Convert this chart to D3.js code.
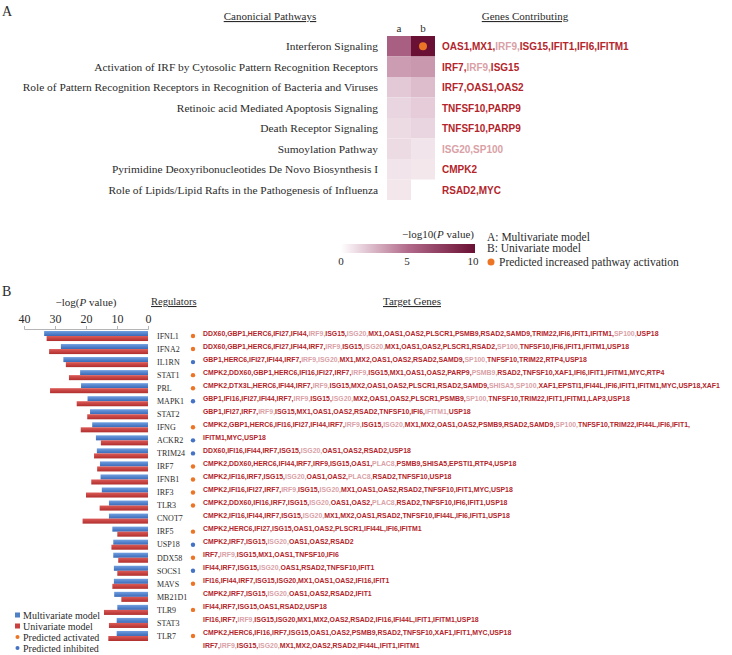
<!DOCTYPE html>
<html>
<head>
<meta charset="utf-8">
<script src="https://cdn.jsdelivr.net/npm/d3@7"></script>
<style>
body { margin: 0; background: #fff; }
svg { display: block; }
.serif { font-family: "Liberation Serif", "Times New Roman", serif; fill: #2b2b2b; }
.gene { font-family: "Liberation Sans", Arial, sans-serif; font-weight: bold; }
.axis path, .axis line { stroke: #b5b5b5; }
</style>
</head>
<body>
<div id="chart"></div>
<script>
// ---- Panel A data ----
const pathways = [
    "Interferon Signaling",
    "Activation of IRF by Cytosolic Pattern Recognition Receptors",
    "Role of Pattern Recognition Receptors in Recognition of Bacteria and Viruses",
    "Retinoic acid Mediated Apoptosis Signaling",
    "Death Receptor Signaling",
    "Sumoylation Pathway",
    "Pyrimidine Deoxyribonucleotides De Novo Biosynthesis I",
    "Role of Lipids/Lipid Rafts in the Pathogenesis of Influenza"
]
const pathLogP_a = [5.6, 3.3, 1.8, 1.4, 1.2, 1.2, 0.9, 0.8]
const pathLogP_b = [10, 3.5, 2.2, 1.7, 1.4, 0.9, 0.8, null]
const pathActivated_b = [true, false, false, false, false, false, false, false]
// "*" marks genes printed in the faint colour
const pathGenes = [
    "OAS1,MX1,*IRF9,ISG15,IFIT1,IFI6,IFITM1",
    "IRF7,*IRF9,ISG15",
    "IRF7,OAS1,OAS2",
    "TNFSF10,PARP9",
    "TNFSF10,PARP9",
    "*ISG20,*SP100",
    "CMPK2",
    "RSAD2,MYC"
]

// ---- Panel B data ----
const regulators = ["IFNL1", "IFNA2", "IL1RN", "STAT1", "PRL", "MAPK1", "STAT2", "IFNG",
    "ACKR2", "TRIM24", "IRF7", "IFNB1", "IRF3", "TLR3", "CNOT7", "IRF5", "USP18", "DDX58",
    "SOCS1", "MAVS", "MB21D1", "TLR9", "STAT3", "TLR7"]
const multiLogP = [33.5, 28.1, 27.3, 21.9, 21.6, 19.5, 18.7, 18.0, 16.8, 16.5, 15.5, 15.3,
    14.9, 12.6, 12.6, 11.5, 11.2, 11.2, 11.0, 11.0, 10.9, 9.9, 10.1, 10.1]
const uniLogP = [32.7, 31.9, 26.5, 25.5, 31.6, 23.0, 19.6, 21.7, 15.2, 17.4, 16.4, 18.3,
    20.0, 15.6, 21.1, 9.9, 11.8, 9.6, 9.9, 11.5, 8.6, 14.2, 12.6, 12.8]
// a = predicted activated, i = predicted inhibited
const regState = ["a", "a", "i", "a", "a", "i", "", "a", "i", "i", "a", "a", "a", "a", "",
    "a", "i", "a", "i", "a", "", "a", "", "a"]
const targetLines = [
    "DDX60,GBP1,HERC6,IFI27,IFI44,*IRF9,ISG15,*ISG20,MX1,OAS1,OAS2,PLSCR1,PSMB9,RSAD2,SAMD9,TRIM22,IFI6,IFIT1,IFITM1,*SP100,USP18",
    "DDX60,GBP1,HERC6,IFI27,IFI44,IRF7,*IRF9,ISG15,*ISG20,MX1,OAS1,OAS2,PLSCR1,RSAD2,*SP100,TNFSF10,IFI6,IFIT1,IFITM1,USP18",
    "GBP1,HERC6,IFI27,IFI44,IRF7,*IRF9,*ISG20,MX1,MX2,OAS1,OAS2,RSAD2,SAMD9,*SP100,TNFSF10,TRIM22,RTP4,USP18",
    "CMPK2,DDX60,GBP1,HERC6,IFI16,IFI27,IRF7,*IRF9,ISG15,MX1,OAS1,OAS2,PARP9,*PSMB9,RSAD2,TNFSF10,XAF1,IFI6,IFIT1,IFITM1,MYC,RTP4",
    "CMPK2,DTX3L,HERC6,IFI44,IRF7,*IRF9,ISG15,MX2,OAS1,OAS2,PLSCR1,RSAD2,SAMD9,*SHISA5,*SP100,XAF1,EPSTI1,IFI44L,IFI6,IFIT1,IFITM1,MYC,USP18,XAF1",
    "GBP1,IFI16,IFI27,IFI44,IRF7,*IRF9,ISG15,*ISG20,MX2,OAS1,OAS2,PLSCR1,PSMB9,*SP100,TNFSF10,TRIM22,IFIT1,IFITM1,LAP3,USP18",
    "GBP1,IFI27,IRF7,*IRF9,ISG15,MX1,OAS1,OAS2,RSAD2,TNFSF10,IFI6,*IFITM1,USP18",
    "CMPK2,GBP1,HERC6,IFI16,IFI27,IFI44,IRF7,*IRF9,ISG15,*ISG20,MX1,MX2,OAS1,OAS2,PSMB9,RSAD2,SAMD9,*SP100,TNFSF10,TRIM22,IFI44L,IFI6,IFIT1,",
    "IFITM1,MYC,USP18",
    "DDX60,IFI16,IFI44,IRF7,ISG15,*ISG20,OAS1,OAS2,RSAD2,USP18",
    "CMPK2,DDX60,HERC6,IFI44,IRF7,IRF9,ISG15,OAS1,*PLAC8,PSMB9,SHISA5,EPSTI1,RTP4,USP18",
    "CMPK2,IFI16,IRF7,ISG15,*ISG20,OAS1,OAS2,*PLAC8,RSAD2,TNFSF10,USP18",
    "CMPK2,IFI16,IFI27,IRF7,*IRF9,ISG15,*ISG20,MX1,OAS1,OAS2,RSAD2,TNFSF10,IFIT1,MYC,USP18",
    "CMPK2,DDX60,IFI16,IRF7,ISG15,*ISG20,OAS1,OAS2,*PLAC8,RSAD2,TNFSF10,IFI6,IFIT1,USP18",
    "CMPK2,IFI16,IFI44,IRF7,ISG15,*ISG20,MX1,MX2,OAS1,RSAD2,TNFSF10,IFI44L,IFI6,IFIT1,USP18",
    "CMPK2,HERC6,IFI27,ISG15,OAS1,OAS2,PLSCR1,IFI44L,IFI6,IFITM1",
    "CMPK2,IRF7,ISG15,*ISG20,OAS1,OAS2,RSAD2",
    "IRF7,*IRF9,ISG15,MX1,OAS1,TNFSF10,IFI6",
    "IFI44,IRF7,ISG15,*ISG20,OAS1,RSAD2,TNFSF10,IFIT1",
    "IFI16,IFI44,IRF7,ISG15,ISG20,MX1,OAS1,OAS2,IFI16,IFIT1",
    "CMPK2,IRF7,ISG15,*ISG20,OAS1,OAS2,RSAD2,IFIT1",
    "IFI44,IRF7,ISG15,OAS1,RSAD2,USP18",
    "IFI16,IRF7,*IRF9,ISG15,ISG20,MX1,MX2,OAS2,RSAD2,IFI16,IFI44L,IFIT1,IFITM1,USP18",
    "CMPK2,HERC6,IFI16,IRF7,ISG15,OAS1,OAS2,PSMB9,RSAD2,TNFSF10,XAF1,IFIT1,MYC,USP18",
    "IRF7,*IRF9,ISG15,*ISG20,MX1,MX2,OAS2,RSAD2,IFI44L,IFIT1,IFITM1"
]

const geneDark = '#b3252b'
const geneFaint = '#d9a1a6'
const orange = '#ec7425'
const dotBlue = '#4472c4'

const width = 732
const height = 655

var svg = d3.select('#chart')
    .append('svg')
    .attr('width', width)
    .attr('height', height)

function geneText(sel, str) {
    var tokens = str.split(',')
    tokens.forEach(function(t, i) {
        if (t === '') return
        var faint = t[0] === '*'
        var name = faint ? t.slice(1) : t
        sel.append('tspan')
            .attr('fill', faint ? geneFaint : geneDark)
            .text(name + (i < tokens.length - 1 ? ',' : ''))
    })
}

// ================= Panel A =================
svg.append('text').attr('class', 'serif')
    .attr('x', 2).attr('y', 16).attr('font-size', 14).text('A')

svg.append('text').attr('class', 'serif')
    .attr('x', 270).attr('y', 20).attr('font-size', 11)
    .attr('text-anchor', 'middle')
    .style('text-decoration', 'underline')
    .text('Canonicial Pathways')

svg.append('text').attr('class', 'serif')
    .attr('x', 525).attr('y', 20).attr('font-size', 11)
    .attr('text-anchor', 'middle')
    .style('text-decoration', 'underline')
    .text('Genes Contributing')

var yA = d3.scaleBand()
    .domain(d3.range(pathways.length))
    .range([36, 200])

var xA = d3.scaleBand()
    .domain(['a', 'b'])
    .range([387, 435])

var heatColor = d3.scaleLinear()
    .domain([0, 5, 10])
    .range(['#ffffff', '#b26a8b', '#6a1034'])

svg.append('g').selectAll('text')
    .data(xA.domain())
    .enter()
    .append('text')
    .attr('class', 'serif')
    .attr('x', function(d){ return xA(d) + xA.bandwidth() / 2 })
    .attr('y', 32)
    .attr('font-size', 11)
    .attr('text-anchor', 'middle')
    .text(function(d){ return d })

svg.append('g').selectAll('text')
    .data(pathways)
    .enter()
    .append('text')
    .attr('class', 'serif')
    .attr('x', 378)
    .attr('y', function(d, i){ return yA(i) + yA.bandwidth() / 2 })
    .attr('dy', '0.35em')
    .attr('font-size', 11.4)
    .attr('text-anchor', 'end')
    .text(function(d){ return d })

var cells = []
pathways.forEach(function(p, i) {
    if (pathLogP_a[i] != null) cells.push({row: i, col: 'a', v: pathLogP_a[i]})
    if (pathLogP_b[i] != null) cells.push({row: i, col: 'b', v: pathLogP_b[i]})
})

svg.append('g').selectAll('rect')
    .data(cells)
    .enter()
    .append('rect')
    .attr('x', function(d){ return xA(d.col) })
    .attr('y', function(d){ return yA(d.row) })
    .attr('width', xA.bandwidth())
    .attr('height', yA.bandwidth())
    .attr('fill', function(d){ return heatColor(d.v) })

svg.append('g').selectAll('circle')
    .data(pathActivated_b.map(function(d, i){ return {row: i, on: d} }).filter(function(d){ return d.on }))
    .enter()
    .append('circle')
    .attr('cx', xA('b') + xA.bandwidth() / 2)
    .attr('cy', function(d){ return yA(d.row) + yA.bandwidth() / 2 })
    .attr('r', 4)
    .attr('fill', orange)

pathGenes.forEach(function(g, i) {
    var t = svg.append('text')
        .attr('class', 'gene')
        .attr('font-size', 11)
        .attr('dy', '0.35em')
        .attr('transform', 'translate(442,' + (yA(i) + yA.bandwidth() / 2) + ') scale(0.91,1)')
    geneText(t, g)
})

// colour legend
var legendX = d3.scaleLinear().domain([0, 10]).range([341, 473])
var grad = svg.append('defs').append('linearGradient')
    .attr('id', 'heatGrad')
grad.selectAll('stop')
    .data(d3.range(0, 10.01, 1))
    .enter()
    .append('stop')
    .attr('offset', function(d){ return (d / 10 * 100) + '%' })
    .attr('stop-color', function(d){ return heatColor(d) })

svg.append('rect')
    .attr('x', legendX(0))
    .attr('y', 244)
    .attr('width', legendX(10) - legendX(0) + 2)
    .attr('height', 9)
    .attr('fill', 'url(#heatGrad)')

svg.append('g').selectAll('text')
    .data([0, 5, 10])
    .enter()
    .append('text')
    .attr('class', 'serif')
    .attr('x', function(d){ return legendX(d) })
    .attr('y', 265)
    .attr('font-size', 11)
    .attr('text-anchor', 'middle')
    .text(function(d){ return d })

var lt = svg.append('text').attr('class', 'serif')
    .attr('x', 474).attr('y', 238).attr('font-size', 11)
    .attr('text-anchor', 'end')
lt.append('tspan').text('\u2212log10(')
lt.append('tspan').attr('font-style', 'italic').text('P')
lt.append('tspan').text(' value)')

svg.append('text').attr('class', 'serif')
    .attr('x', 487).attr('y', 241).attr('font-size', 11.5)
    .text('A: Multivariate model')
svg.append('text').attr('class', 'serif')
    .attr('x', 487).attr('y', 252).attr('font-size', 11.5)
    .text('B: Univariate model')
svg.append('circle')
    .attr('cx', 491).attr('cy', 262).attr('r', 3.5).attr('fill', orange)
svg.append('text').attr('class', 'serif')
    .attr('x', 499).attr('y', 266).attr('font-size', 11.5)
    .text('Predicted increased pathway activation')

// ================= Panel B =================
svg.append('text').attr('class', 'serif')
    .attr('x', 2).attr('y', 296).attr('font-size', 14).text('B')

var ht = svg.append('text').attr('class', 'serif')
    .attr('x', 86).attr('y', 306).attr('font-size', 11)
    .attr('text-anchor', 'middle')
ht.append('tspan').text('\u2212log(')
ht.append('tspan').attr('font-style', 'italic').text('P')
ht.append('tspan').text(' value)')

svg.append('text').attr('class', 'serif')
    .attr('x', 151).attr('y', 305).attr('font-size', 10.5)
    .style('text-decoration', 'underline')
    .text('Regulators')

svg.append('text').attr('class', 'serif')
    .attr('x', 412).attr('y', 305).attr('font-size', 11)
    .attr('text-anchor', 'middle')
    .style('text-decoration', 'underline')
    .text('Target Genes')

var xB = d3.scaleLinear()
    .domain([0, 40])
    .range([148, 24])

var yB = d3.scaleBand()
    .domain(regulators)
    .range([329.5, 642.5])

var ySub = d3.scaleBand()
    .domain(['multi', 'uni'])
    .range([0, yB.bandwidth()])
    .paddingOuter(0.3)

var xAxis = d3.axisTop(xB)
    .tickValues([0, 10, 20, 30, 40])
    .tickSize(3)

svg.append('g')
    .attr('class', 'axis')
    .attr('transform', 'translate(0,329)')
    .call(xAxis)
    .call(function(g){
        g.selectAll('text')
            .attr('class', 'serif')
            .attr('fill', '#2b2b2b')
            .attr('font-size', 12)
    })

var defs = svg.select('defs')
function barGrad(id, c1, c2) {
    var g = defs.append('linearGradient').attr('id', id)
        .attr('x1', 0).attr('y1', 0).attr('x2', 0).attr('y2', 1)
    g.append('stop').attr('offset', '0%').attr('stop-color', c1)
    g.append('stop').attr('offset', '100%').attr('stop-color', c2)
}
barGrad('blueBar', '#6f9ee0', '#3a69b8')
barGrad('redBar', '#dc5a57', '#b02f2e')

var rows = regulators.map(function(r, i){
    return {name: r, multi: multiLogP[i], uni: uniLogP[i], state: regState[i]}
})

var barG = svg.append('g').attr('class', 'bars')
barG.selectAll('rect.multi')
    .data(rows)
    .enter()
    .append('rect')
    .attr('class', 'multi')
    .attr('x', function(d){ return xB(d.multi) })
    .attr('y', function(d){ return yB(d.name) + ySub('multi') })
    .attr('width', function(d){ return xB(0) - xB(d.multi) })
    .attr('height', ySub.bandwidth())
    .attr('fill', 'url(#blueBar)')

barG.selectAll('rect.uni')
    .data(rows)
    .enter()
    .append('rect')
    .attr('class', 'uni')
    .attr('x', function(d){ return xB(d.uni) })
    .attr('y', function(d){ return yB(d.name) + ySub('uni') })
    .attr('width', function(d){ return xB(0) - xB(d.uni) })
    .attr('height', ySub.bandwidth())
    .attr('fill', 'url(#redBar)')

svg.append('g').selectAll('text')
    .data(rows)
    .enter()
    .append('text')
    .attr('class', 'serif')
    .attr('x', 157)
    .attr('y', function(d){ return yB(d.name) + yB.bandwidth() / 2 })
    .attr('dy', '0.35em')
    .attr('font-size', 8)
    .text(function(d){ return d.name })

svg.append('g').selectAll('circle')
    .data(rows.filter(function(d){ return d.state !== '' }))
    .enter()
    .append('circle')
    .attr('cx', 193)
    .attr('cy', function(d){ return yB(d.name) + yB.bandwidth() / 2 })
    .attr('r', 2.2)
    .attr('fill', function(d){ return d.state === 'a' ? orange : dotBlue })

var yLines = d3.scaleBand()
    .domain(d3.range(targetLines.length))
    .range([326.5, 651.5])

targetLines.forEach(function(line, i) {
    var t = svg.append('text')
        .attr('class', 'gene')
        .attr('font-size', 7.9)
        .attr('dy', '0.35em')
        .attr('transform', 'translate(203,' + (yLines(i) + yLines.bandwidth() / 2) + ') scale(0.875,1)')
    geneText(t, line)
})

// legend B
var legendItems = [
    {label: 'Multivariate model', shape: 'rect', color: '#4f7fc4'},
    {label: 'Univariate model', shape: 'rect', color: '#c8403f'},
    {label: 'Predicted activated', shape: 'circle', color: orange},
    {label: 'Predicted inhibited', shape: 'circle', color: dotBlue}
]
var lg = svg.append('g').selectAll('g')
    .data(legendItems)
    .enter()
    .append('g')
    .attr('transform', function(d, i){ return 'translate(0,' + (615 + i * 11) + ')' })
lg.filter(function(d){ return d.shape === 'rect' })
    .append('rect')
    .attr('x', 15).attr('y', -2.5).attr('width', 5).attr('height', 5)
    .attr('fill', function(d){ return d.color })
lg.filter(function(d){ return d.shape === 'circle' })
    .append('circle')
    .attr('cx', 17.5).attr('cy', 0).attr('r', 2)
    .attr('fill', function(d){ return d.color })
lg.append('text')
    .attr('class', 'serif')
    .attr('x', 23)
    .attr('dy', '0.35em')
    .attr('font-size', 10)
    .text(function(d){ return d.label })
</script>
</body>
</html>
